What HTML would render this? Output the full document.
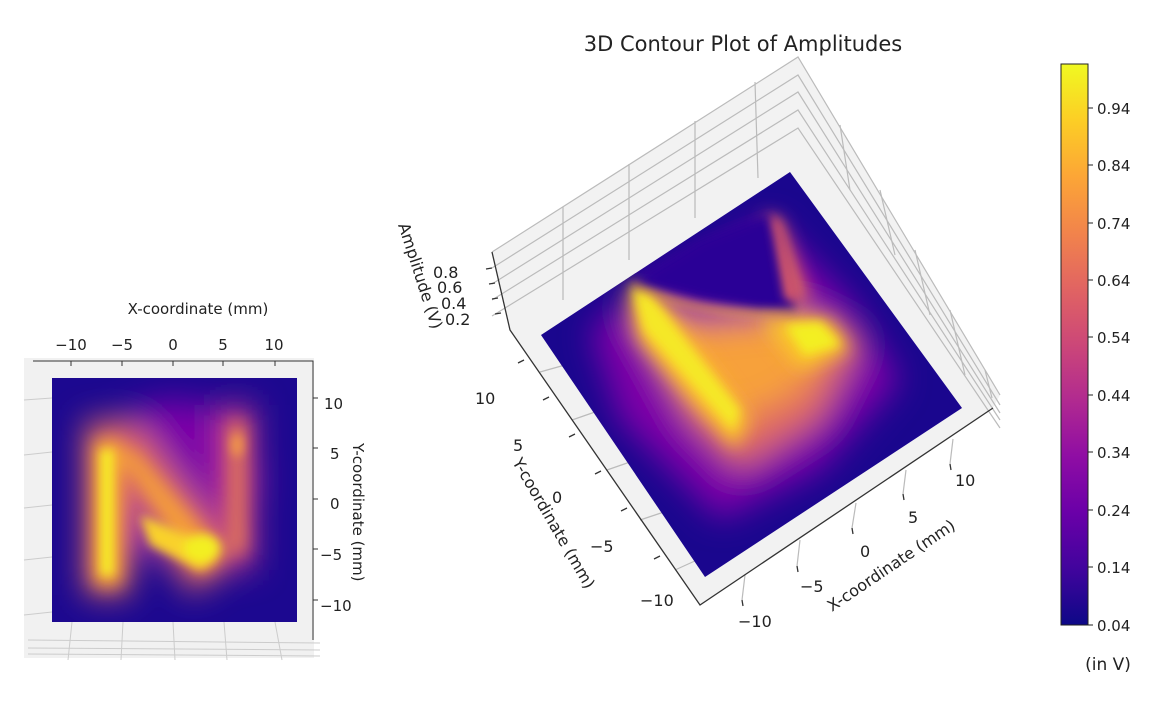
<!DOCTYPE html>
<html><head><meta charset="utf-8"><style>
body{margin:0;background:#fff;width:1149px;height:696px;overflow:hidden}
text{font-family:"DejaVu Sans","Liberation Sans",sans-serif;fill:#222}
</style></head><body>
<svg width="1149" height="696" viewBox="0 0 1149 696" xmlns="http://www.w3.org/2000/svg">
<defs>
<linearGradient id="plasma" x1="0" y1="1" x2="0" y2="0">
<stop offset="0" stop-color="#0d0887"/><stop offset="0.1" stop-color="#41049d"/>
<stop offset="0.2" stop-color="#6a00a8"/><stop offset="0.3" stop-color="#8f0da4"/>
<stop offset="0.4" stop-color="#b12a90"/><stop offset="0.5" stop-color="#cc4778"/>
<stop offset="0.6" stop-color="#e16462"/><stop offset="0.7" stop-color="#f2844b"/>
<stop offset="0.8" stop-color="#fca636"/><stop offset="0.9" stop-color="#fcce25"/>
<stop offset="1" stop-color="#f0f921"/></linearGradient>
<filter id="b1" x="-50%" y="-50%" width="200%" height="200%"><feGaussianBlur stdDeviation="16"/></filter>
<filter id="b2" x="-50%" y="-50%" width="200%" height="200%"><feGaussianBlur stdDeviation="5"/></filter>
<filter id="b3" x="-50%" y="-50%" width="200%" height="200%"><feGaussianBlur stdDeviation="9"/></filter>
<clipPath id="lc"><rect x="52" y="378" width="245" height="244"/></clipPath>
<clipPath id="rc"><polygon points="541,335 790,172 962,408 705,577"/></clipPath>
</defs>

<text x="743" y="51" font-size="21" text-anchor="middle">3D Contour Plot of Amplitudes</text>

<!-- LEFT PLOT -->
<rect x="24" y="358" width="290" height="300" fill="#f1f1f1"/>
<g stroke="#ccc" stroke-width="1" fill="none">
<path d="M24 400 L52 398 M24 455 L52 452 M24 508 L52 505 M24 560 L52 557 M24 615 L52 612"/>
<path d="M72 622 L68 660 M123 622 L121 660 M173 622 L175 660 M224 622 L227 660 M275 622 L282 660"/>
<path d="M28 640 L320 643 M28 648 L320 650 M28 654 L320 656"/>
</g>
<path d="M33 361 L313 361 L313 640" stroke="#333" stroke-width="1" fill="none"/>
<g stroke="#333"><path d="M71 361v5M122 361v5M173 361v5M223 361v5M275 361v5M313 398h5M313 448h5M313 499h5M313 549h5M313 600h5"/></g>
<g font-size="15">
<text x="71" y="350" text-anchor="middle">−10</text><text x="122" y="350" text-anchor="middle">−5</text>
<text x="173" y="350" text-anchor="middle">0</text><text x="223" y="350" text-anchor="middle">5</text>
<text x="274" y="350" text-anchor="middle">10</text>
<text x="324" y="409">10</text><text x="330" y="459">5</text><text x="330" y="509">0</text>
<text x="320" y="560">−5</text><text x="320" y="611">−10</text>
</g>
<text x="198" y="314" font-size="15" text-anchor="middle">X-coordinate (mm)</text>
<text x="0" y="0" font-size="15" transform="translate(353,443) rotate(90)">Y-coordinate (mm)</text>
<g clip-path="url(#lc)">
<rect x="52" y="378" width="245" height="244" fill="#1c0890"/>
<g filter="url(#b1)">
<ellipse cx="175" cy="480" rx="85" ry="80" fill="#7a05a8"/>
<path d="M85 420 L130 420 L130 595 L85 595Z" fill="#e06a60"/>
<path d="M100 425 L140 425 L240 560 L190 595Z" fill="#d7626a"/>
<path d="M218 405 L255 405 L255 570 L218 570Z" fill="#b5308e"/>
</g>
<g filter="url(#b3)">
<path d="M95 440 L120 440 L120 585 L95 585Z" fill="#fbb032"/>
<path d="M115 450 L135 450 L225 555 L200 575Z" fill="#f6a038"/>
<path d="M228 420 L246 420 L246 555 L228 555Z" fill="#e57a55"/>
</g>
<g filter="url(#b2)">
<path d="M101 450 L113 450 L113 575 L101 575Z" fill="#f5ee25"/>
<path d="M140 515 L200 540 L215 560 L200 570 L150 545Z" fill="#f9d22a"/>
<ellipse cx="202" cy="548" rx="18" ry="14" fill="#f3ef24"/>
<ellipse cx="237" cy="445" rx="6" ry="12" fill="#f2984a"/>
</g>
</g>

<!-- RIGHT 3D PLOT panes -->
<polygon points="492,252 798,57 1000,395 993,408 700,605 510,330" fill="#f2f2f2"/>
<g stroke="#bbb" stroke-width="1.2" fill="none">
<path d="M492 252 L798 57 L1000 395"/>
<path d="M492 268 L798 75 L1000 405 M492 284 L798 92 L1000 413 M492 300 L798 110 L1000 420 M492 316 L798 128 L1000 428"/>
<path d="M563 207 L563 300 M629 164 L629 260 M695 121 L695 218 M755 82 L758 178"/>
<path d="M840 125 L850 190 M880 190 L895 255 M915 250 L930 315 M950 310 L965 375 M985 370 L992 398"/>
<path d="M540 372 L565 365 M572 420 L595 412 M607 470 L630 462 M640 520 L664 512 M675 570 L697 560"/>
<path d="M745 575 L742 600 M800 540 L797 566 M856 503 L852 528 M906 470 L903 494 M953 439 L950 464"/>
</g>
<g stroke="#333" stroke-width="1.3" fill="none">
<path d="M492 252 L510 330 L700 605 L993 408"/>
<path d="M492 268l-6 1M495 283l-6 1M498 298l-6 1M501 313l-6 1"/>
<path d="M524 360l-6 3M549 397l-6 3M575 434l-6 3M601 471l-6 3M627 508l-6 3M660 556l-6 3"/>
<path d="M742 600l1 6M797 566l1 6M852 528l1 6M903 494l1 6M950 464l1 6"/>
</g>
<g font-size="16">
<text x="433" y="278">0.8</text><text x="437" y="293">0.6</text><text x="441" y="309">0.4</text><text x="445" y="325">0.2</text>
<text x="475" y="404">10</text><text x="513" y="451">5</text><text x="552" y="503">0</text>
<text x="590" y="552">−5</text><text x="640" y="606">−10</text>
<text x="738" y="627">−10</text><text x="800" y="592">−5</text><text x="860" y="557">0</text>
<text x="908" y="523">5</text><text x="955" y="486">10</text>
</g>
<text font-size="16" transform="translate(398,225) rotate(72)">Amplitude (V)</text>
<text font-size="16" transform="translate(512,462) rotate(60)">Y-coordinate (mm)</text>
<text font-size="16" transform="translate(832,612) rotate(-34)">X-coordinate (mm)</text>

<!-- 3D surface -->
<g clip-path="url(#rc)">
<rect x="530" y="160" width="450" height="430" fill="#1a068e"/>
<g filter="url(#b1)">
<polygon points="590,330 640,290 770,220 850,300 900,380 820,470 720,520 620,420" fill="#7e05a8"/>
<polygon points="625,300 700,320 800,310 860,340 820,420 740,470 690,420" fill="#e06a60"/>
<polygon points="640,310 700,330 790,320 830,340 800,390 740,420 700,400" fill="#f7a13a"/>
</g>
<g filter="url(#b3)">
<polygon points="628,285 660,300 750,420 735,450 640,340" fill="#fbc22d"/>
<polygon points="760,320 830,320 850,350 800,370" fill="#f9c52b"/>
<polygon points="765,215 780,220 810,300 770,300" fill="#e0705a"/>
</g>
<g filter="url(#b2)">
<polygon points="632,287 650,295 740,410 733,430 645,330" fill="#f5e826"/>
<polygon points="785,325 820,322 840,345 805,355" fill="#f3ef24"/>
</g>
<polygon points="632,282 700,300 760,310 795,312 780,235 770,213 700,240" fill="#2a0596" filter="url(#b2)"/>
<polygon points="770,213 780,222 800,300 785,300" fill="#d5566a" filter="url(#b2)"/>
<path d="M632 284 Q700 318 795 313" stroke="#f9b530" stroke-width="4" fill="none" filter="url(#b2)"/>
</g>

<!-- Colorbar -->
<rect x="1061" y="64" width="27" height="561" fill="url(#plasma)" stroke="#222" stroke-width="1"/>
<g stroke="#222"><path d="M1088 108h5M1088 165h5M1088 223h5M1088 280h5M1088 337h5M1088 395h5M1088 452h5M1088 510h5M1088 567h5M1088 625h5"/></g>
<g font-size="15">
<text x="1097" y="114">0.94</text><text x="1097" y="171">0.84</text><text x="1097" y="229">0.74</text>
<text x="1097" y="286">0.64</text><text x="1097" y="343">0.54</text><text x="1097" y="401">0.44</text>
<text x="1097" y="458">0.34</text><text x="1097" y="516">0.24</text><text x="1097" y="573">0.14</text>
<text x="1097" y="631">0.04</text>
</g>
<text x="1108" y="670" font-size="17" text-anchor="middle">(in V)</text>
</svg>
</body></html>
